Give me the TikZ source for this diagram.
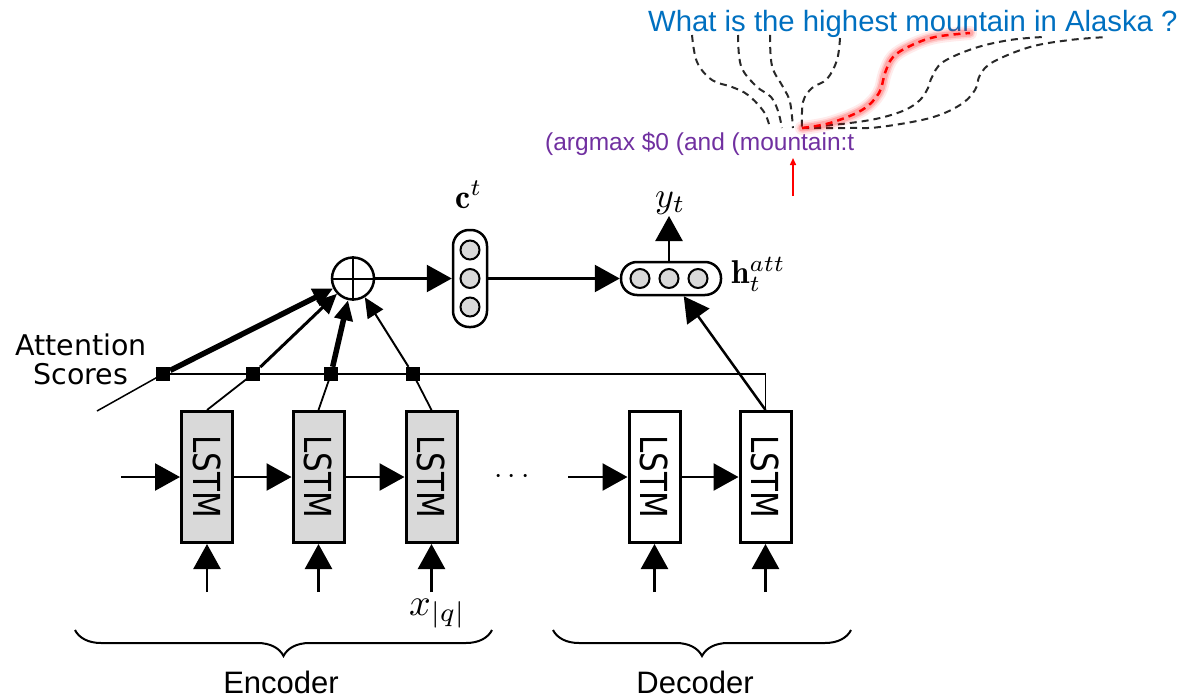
\documentclass[tikz,border=0pt]{standalone}
\usepackage{fontspec}
\newfontfamily\arialfont{Liberation Sans}
\newfontfamily\dvfont{DejaVu Sans}
\usetikzlibrary{arrows.meta,decorations.pathreplacing}
\definecolor{qblue}{RGB}{0,112,192}
\definecolor{lfpurple}{RGB}{112,48,160}
\definecolor{cellgray}{RGB}{217,217,217}
\definecolor{alignline}{RGB}{40,40,40}
% enlarged math labels
\newcommand\lblmath[2][3]{\scalebox{#1}{$#2$}}

\begin{document}
\begin{tikzpicture}[x=1pt,y=-1pt,
  every node/.style={inner sep=0pt},
  wire/.style={line width=2.5pt},
  thinwire/.style={line width=1.8pt},
  bigtip/.style={-{Triangle[length=25pt,width=27pt]}},
  smalltip/.style={-{Triangle[length=20pt,width=18pt]}},
  lstmbox/.style={draw,line width=3pt,minimum width=51pt,minimum height=131pt},
  enccell/.style={lstmbox,fill=cellgray},
  deccell/.style={lstmbox,fill=white},
  lstmlabel/.style={rotate=-90,font=\dvfont\fontsize{31}{31}\selectfont},
  scorebox/.style={fill=black,minimum size=14pt},
  unit/.style={circle,draw,fill=cellgray,line width=2pt,minimum size=19pt},
  capsule/.style={draw,line width=2.5pt,rounded corners=16pt},
  sanslabel/.style={font=\arialfont\fontsize{31}{31}\selectfont},
  align path/.style={alignline,line width=2pt,dash pattern=on 7pt off 5pt},
]
\useasboundingbox (0,0) rectangle (1182,698);

% ---------- encoder and decoder cells ----------
\node[enccell] (e1) at (207,477) {};
\node[enccell] (e2) at (318.5,477) {};
\node[enccell] (e3) at (431.5,477) {};
\node[deccell] (d1) at (654.5,477) {};
\node[deccell] (d2) at (765.5,477) {};
\foreach \c in {e1,e2,e3,d1,d2}
  \node[lstmlabel] (\c txt) at (\c) {\scalebox{1}[1.2]{LSTM}};

\node (dots) at (512,477) {\lblmath{\cdots}};

% recurrent connections
\coordinate (ein) at (121,477);
\coordinate (din) at (568,477);
\draw[wire,bigtip] (ein) -- (e1);
\draw[wire,bigtip] (e1) -- (e2);
\draw[wire,bigtip] (e2) -- (e3);
\draw[wire,bigtip] (din) -- (d1);
\draw[wire,bigtip] (d1) -- (d2);

% inputs
\foreach \c in {e1,e2,e3,d1,d2}{
  \coordinate (\c in) at ([yshift=-115pt]\c.center);
  \draw[wire,bigtip] (\c in) -- (\c);
}
\node[anchor=base west] (xq) at (409,615) {\lblmath[3.8]{x_{|q|}}};

% ---------- attention ----------
\node[scorebox] (s1) at (163,374) {};
\node[scorebox] (s2) at (253,374) {};
\node[scorebox] (s3) at (331,374) {};
\node[scorebox] (s4) at (413,374) {};
\coordinate (bend) at (765.5,374);
\draw[thinwire] (s1.center) -- (bend) -- (d2.north);
\draw[thinwire] (e1.north) -- (s2.center);
\draw[thinwire] (e2.north) -- (s3.center);
\draw[thinwire] (e3.north) -- (s4.center);

\node[font=\dvfont\fontsize{28.5}{29}\selectfont,align=center] (attn) at (81,359) {Attention\\Scores};
\coordinate (attnptr) at (97,411);
\draw[line width=1.5pt] (attnptr) -- (s1.center);

\node[circle,draw,line width=2.5pt,minimum size=42pt] (plus) at (353,278.5) {};
\draw[line width=2pt] (plus.north) -- (plus.south) (plus.west) -- (plus.east);

\draw[line width=5.5pt,smalltip] (s1) -- (plus);
\draw[line width=3pt,smalltip] (s2) -- (plus);
\draw[line width=5.5pt,smalltip] (s3) -- (plus);
\draw[line width=2pt,smalltip] (s4) -- (plus);

% context vector
\node[capsule,minimum width=34pt,minimum height=97pt] (ct) at (470,278.5) {};
\node[unit] (ct1) at (470,250) {};
\node[unit] (ct2) at (470,278.5) {};
\node[unit] (ct3) at (470,307) {};
\node[anchor=base west] (ctlab) at (455,208) {\lblmath[3.4]{\mathbf{c}^t}};

% attentional hidden state
\node[capsule,minimum width=100pt,minimum height=33pt] (hatt) at (671,278.5) {};
\node[unit] (h1) at (640,278.5) {};
\node[unit] (h2) at (669,278.5) {};
\node[unit] (h3) at (698,278.5) {};
\node[anchor=base west] (hlab) at (731,283) {\lblmath[3.3]{\mathbf{h}_t^{att}}};
\node[anchor=base west] (ylab) at (655,207) {\lblmath[3.6]{y_t}};
\coordinate (yend) at (669,216);

\draw[wire,bigtip] (plus) -- (ct);
\draw[wire,bigtip] (ct) -- (hatt);
\draw[wire,bigtip] (hatt.north -| h2) -- (yend);
\draw[wire,bigtip] (d2.north) -- (hatt);

% ---------- braces ----------
\coordinate (encL) at (75,630);
\coordinate (encR) at (492,630);
\coordinate (decL) at (553,630);
\coordinate (decR) at (851,630);
\draw[line width=2pt,decorate,decoration={brace,mirror,amplitude=26pt}] (encL) -- (encR);
\draw[line width=2pt,decorate,decoration={brace,mirror,amplitude=26pt}] (decL) -- (decR);
\node[sanslabel,anchor=base] (enc) at (281,693) {Encoder};
\node[sanslabel,anchor=base] (dec) at (695,693) {Decoder};

% ---------- question and logical form with alignments ----------
\node[anchor=base west,text=qblue,font=\arialfont\fontsize{29.3}{30}\selectfont] (question) at (648,32) {What is the highest mountain in Alaska ?};
\node[anchor=base west,text=lfpurple,font=\arialfont\fontsize{24.5}{26}\selectfont] (lform) at (545,150) {(argmax \$0 (and (mountain:t};

\coordinate (w1) at (692,35);
\coordinate (w2) at (738,35);
\coordinate (w3) at (770,35);
\coordinate (w4) at (840,38);
\coordinate (w5) at (970,33);
\coordinate (w6) at (1043,37);
\coordinate (w7) at (1107,37);
\coordinate (t1) at (770,128);
\coordinate (t2) at (782,128);
\coordinate (t3) at (793,128);
\coordinate (t4) at (802,128);

\draw[align path] plot[smooth,tension=0.6] coordinates {(w1) (697,62) (712,80) (732,87) (748,95) (764,112) (t1)};
\draw[align path] plot[smooth,tension=0.6] coordinates {(w2) (741,66) (756,86) (771,97) (778,111) (t2)};
\draw[align path] plot[smooth,tension=0.6] coordinates {(w3) (772,66) (783,87) (790,102) (t3)};
\draw[align path] plot[smooth,tension=0.6] coordinates {(w4) (837,60) (827,79) (812,88) (803,102) (t4)};
\draw[align path] plot[smooth,tension=0.6] coordinates {(t4) (850,123) (880,118) (905,110) (920,100) (928,88) (932,77) (943,62) (975,48) (1010,40) (w6)};
\draw[align path] plot[smooth,tension=0.6] coordinates {(t4) (850,128) (880,127) (930,118) (960,105) (975,90) (980,75) (993,62) (1030,47) (1070,40) (w7)};

% highlighted alignment with a soft glow
\foreach \w/\o in {14/0.08,10/0.12,7/0.18}
  \draw[red,line width=\w pt,opacity=\o,line cap=round] plot[smooth,tension=0.6] coordinates {(t4) (830,123) (862,110) (879,93) (885,73) (893,57) (910,46) (935,37) (w5)};
\draw[red,line width=2.5pt,dash pattern=on 7pt off 5pt] plot[smooth,tension=0.6] coordinates {(t4) (830,123) (862,110) (879,93) (885,73) (893,57) (910,46) (935,37) (w5)};

\coordinate (ptrbase) at (793,196);
\coordinate (ptrtip) at (793,158);
\draw[red,line width=1.5pt,-{Triangle[length=7pt,width=6pt]}] (ptrbase) -- (ptrtip);
\end{tikzpicture}
\end{document}
